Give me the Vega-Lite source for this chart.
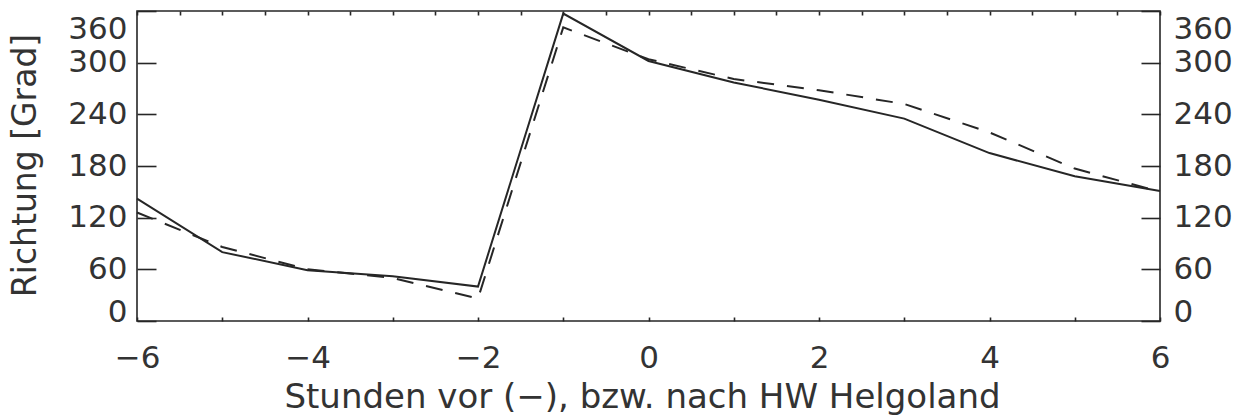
{
  "$schema": "https://vega.github.io/schema/vega-lite/v6.json",
  "width": 1023,
  "height": 310,
  "autosize": {"type": "none"},
  "padding": {"left": 137, "top": 11, "right": 80, "bottom": 97},
  "background": "white",
  "config": {
    "view": {"stroke": "#262626", "strokeWidth": 1.6},
    "axis": {
      "labelFont": "DejaVu Sans",
      "titleFont": "DejaVu Sans",
      "labelColor": "#333333",
      "titleColor": "#333333",
      "tickColor": "#262626",
      "tickWidth": 1.6,
      "domain": false,
      "grid": false,
      "labelFlush": false,
      "labelOverlap": false,
      "labelBound": false,
      "titleFontWeight": "normal"
    }
  },
  "data": {
    "values": [
      {"h": -6, "v": 142, "series": "solid"},
      {"h": -5, "v": 80, "series": "solid"},
      {"h": -4, "v": 59, "series": "solid"},
      {"h": -3, "v": 52, "series": "solid"},
      {"h": -2, "v": 40, "series": "solid"},
      {"h": -1, "v": 357, "series": "solid"},
      {"h": 0, "v": 302, "series": "solid"},
      {"h": 1, "v": 277, "series": "solid"},
      {"h": 2, "v": 257, "series": "solid"},
      {"h": 3, "v": 235, "series": "solid"},
      {"h": 4, "v": 195, "series": "solid"},
      {"h": 5, "v": 168, "series": "solid"},
      {"h": 6, "v": 151, "series": "solid"},
      {"h": -6, "v": 126, "series": "dashed"},
      {"h": -5, "v": 86, "series": "dashed"},
      {"h": -4, "v": 60, "series": "dashed"},
      {"h": -3, "v": 50, "series": "dashed"},
      {"h": -2, "v": 26, "series": "dashed"},
      {"h": -1, "v": 341, "series": "dashed"},
      {"h": 0, "v": 304, "series": "dashed"},
      {"h": 1, "v": 281, "series": "dashed"},
      {"h": 2, "v": 268, "series": "dashed"},
      {"h": 3, "v": 252, "series": "dashed"},
      {"h": 4, "v": 219, "series": "dashed"},
      {"h": 5, "v": 177, "series": "dashed"},
      {"h": 6, "v": 150, "series": "dashed"}
    ]
  },
  "resolve": {"axis": {"x": "independent", "y": "independent"}},
  "layer": [
    {
      "transform": [{"filter": "datum.series === 'solid'"}],
      "mark": {"type": "line", "color": "#262626", "strokeWidth": 2},
      "encoding": {
        "x": {
          "field": "h",
          "type": "quantitative",
          "scale": {"domain": [-6, 6], "nice": false},
          "axis": {
            "orient": "bottom",
            "values": [-6, -5.5, -5, -4.5, -4, -3.5, -3, -2.5, -2, -1.5, -1, -0.5, 0, 0.5, 1, 1.5, 2, 2.5, 3, 3.5, 4, 4.5, 5, 5.5, 6],
            "format": "d",
            "labelExpr": "datum.value % 2 === 0 ? datum.label : ''",
            "tickSize": -4,
            "labelFontSize": 31,
            "labelBaseline": "alphabetic",
            "labelAlign": "center",
            "labelPadding": 50,
            "title": "Stunden vor (−), bzw. nach HW Helgoland",
            "titleFontSize": 34,
            "titleX": 505,
            "titleY": 86,
            "titleAlign": "center",
            "titleBaseline": "alphabetic"
          }
        },
        "y": {
          "field": "v",
          "type": "quantitative",
          "scale": {"domain": [0, 360], "nice": false},
          "axis": {
            "orient": "left",
            "values": [0, 60, 120, 180, 240, 300, 360],
            "tickSize": -19,
            "labelFontSize": 31,
            "labelAlign": "right",
            "labelPadding": 29,
            "labelBaseline": {"condition": {"test": "datum.value === 0 || datum.value === 360", "value": "alphabetic"}, "value": "middle"},
            "labelOffset": {"condition": {"test": "datum.value === 360", "value": 27}, "value": 0},
            "title": "Richtung [Grad]",
            "titleFontSize": 33,
            "titleAngle": 270,
            "titleX": -102,
            "titleY": 154,
            "titleAlign": "center",
            "titleBaseline": "alphabetic"
          }
        }
      }
    },
    {
      "transform": [{"filter": "datum.series === 'dashed'"}],
      "mark": {"type": "line", "color": "#262626", "strokeWidth": 2, "strokeDash": [17, 13]},
      "encoding": {
        "x": {
          "field": "h",
          "type": "quantitative",
          "scale": {"domain": [-6, 6], "nice": false},
          "axis": {
            "orient": "top",
            "values": [-6, -5.5, -5, -4.5, -4, -3.5, -3, -2.5, -2, -1.5, -1, -0.5, 0, 0.5, 1, 1.5, 2, 2.5, 3, 3.5, 4, 4.5, 5, 5.5, 6],
            "tickSize": -4,
            "labels": false,
            "title": null
          }
        },
        "y": {
          "field": "v",
          "type": "quantitative",
          "scale": {"domain": [0, 360], "nice": false},
          "axis": {
            "orient": "right",
            "values": [0, 60, 120, 180, 240, 300, 360],
            "tickSize": -19,
            "labelFontSize": 31,
            "labelAlign": "left",
            "labelPadding": 32,
            "labelBaseline": {"condition": {"test": "datum.value === 0 || datum.value === 360", "value": "alphabetic"}, "value": "middle"},
            "labelOffset": {"condition": {"test": "datum.value === 360", "value": 27}, "value": 0},
            "title": null
          }
        }
      }
    }
  ]
}
